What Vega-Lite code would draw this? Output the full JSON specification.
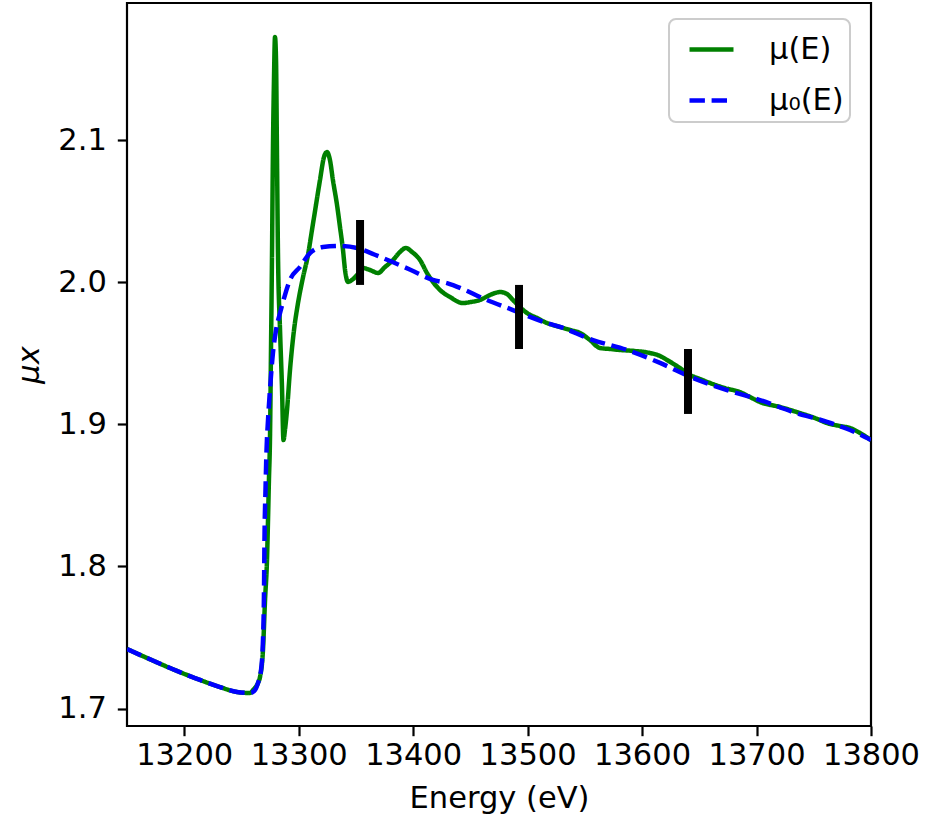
{
  "$schema": "https://vega.github.io/schema/vega-lite/v6.json",
  "width": 744,
  "height": 723,
  "autosize": {"type": "none"},
  "padding": {"left": 127, "top": 3, "right": 54, "bottom": 96},
  "background": "white",
  "config": {
    "font": "DejaVu Sans",
    "view": {"stroke": "black", "strokeWidth": 2.2},
    "axis": {
      "grid": false,
      "domain": false,
      "labelFont": "DejaVu Sans",
      "labelFontSize": 30.5,
      "labelColor": "black",
      "labelOverlap": false,
      "labelFlush": false,
      "tickColor": "black",
      "tickWidth": 2.2,
      "tickSize": 9.7,
      "titleFont": "DejaVu Sans",
      "titleFontSize": 30.5,
      "titleFontWeight": "normal",
      "titleColor": "black"
    },
    "legend": {
      "orient": "none",
      "legendX": 542,
      "legendY": 16,
      "symbolType": "stroke",
      "symbolSize": 1936,
      "symbolStrokeWidth": 4.5,
      "symbolOffset": 12,
      "labelFont": "DejaVu Sans",
      "labelFontSize": 30.5,
      "labelColor": "black",
      "labelOffset": 33,
      "rowPadding": 11,
      "padding": 6,
      "strokeColor": "#cccccc",
      "strokeWidth": 2,
      "cornerRadius": 7,
      "fillColor": "white"
    }
  },
  "datasets": {
    "curves": [
      {"s": "μ(E)", "E": 13150.0, "mu": 1.7419},
      {"s": "μ(E)", "E": 13165.7, "mu": 1.7362},
      {"s": "μ(E)", "E": 13187.6, "mu": 1.7285},
      {"s": "μ(E)", "E": 13213.8, "mu": 1.7201},
      {"s": "μ(E)", "E": 13231.3, "mu": 1.7151},
      {"s": "μ(E)", "E": 13246.1, "mu": 1.7116},
      {"s": "μ(E)", "E": 13257.5, "mu": 1.7109},
      {"s": "μ(E)", "E": 13260.1, "mu": 1.7130},
      {"s": "μ(E)", "E": 13264.4, "mu": 1.7179},
      {"s": "μ(E)", "E": 13266.2, "mu": 1.7222},
      {"s": "μ(E)", "E": 13268.8, "mu": 1.7412},
      {"s": "μ(E)", "E": 13270.6, "mu": 1.7764},
      {"s": "μ(E)", "E": 13272.3, "mu": 1.8045},
      {"s": "μ(E)", "E": 13273.2, "mu": 1.8327},
      {"s": "μ(E)", "E": 13274.0, "mu": 1.8608},
      {"s": "μ(E)", "E": 13274.9, "mu": 1.8889},
      {"s": "μ(E)", "E": 13275.8, "mu": 1.9523},
      {"s": "μ(E)", "E": 13276.7, "mu": 2.0205},
      {"s": "μ(E)", "E": 13277.5, "mu": 2.0930},
      {"s": "μ(E)", "E": 13278.4, "mu": 2.1423},
      {"s": "μ(E)", "E": 13279.3, "mu": 2.1725},
      {"s": "μ(E)", "E": 13280.2, "mu": 2.1563},
      {"s": "μ(E)", "E": 13281.0, "mu": 2.0930},
      {"s": "μ(E)", "E": 13281.9, "mu": 2.0205},
      {"s": "μ(E)", "E": 13283.7, "mu": 1.9663},
      {"s": "μ(E)", "E": 13285.4, "mu": 1.9262},
      {"s": "μ(E)", "E": 13286.7, "mu": 1.8889},
      {"s": "μ(E)", "E": 13288.0, "mu": 1.8960},
      {"s": "μ(E)", "E": 13289.8, "mu": 1.9101},
      {"s": "μ(E)", "E": 13292.4, "mu": 1.9382},
      {"s": "μ(E)", "E": 13295.9, "mu": 1.9663},
      {"s": "μ(E)", "E": 13299.4, "mu": 1.9853},
      {"s": "μ(E)", "E": 13303.8, "mu": 2.0036},
      {"s": "μ(E)", "E": 13308.1, "mu": 2.0191},
      {"s": "μ(E)", "E": 13311.6, "mu": 2.0367},
      {"s": "μ(E)", "E": 13315.1, "mu": 2.0543},
      {"s": "μ(E)", "E": 13318.6, "mu": 2.0719},
      {"s": "μ(E)", "E": 13322.1, "mu": 2.0881},
      {"s": "μ(E)", "E": 13324.7, "mu": 2.0916},
      {"s": "μ(E)", "E": 13327.3, "mu": 2.0860},
      {"s": "μ(E)", "E": 13329.9, "mu": 2.0719},
      {"s": "μ(E)", "E": 13333.5, "mu": 2.0543},
      {"s": "μ(E)", "E": 13336.1, "mu": 2.0388},
      {"s": "μ(E)", "E": 13338.7, "mu": 2.0227},
      {"s": "μ(E)", "E": 13340.5, "mu": 2.0086},
      {"s": "μ(E)", "E": 13343.1, "mu": 2.0002},
      {"s": "μ(E)", "E": 13346.6, "mu": 2.0016},
      {"s": "μ(E)", "E": 13351.0, "mu": 2.0051},
      {"s": "μ(E)", "E": 13356.2, "mu": 2.0100},
      {"s": "μ(E)", "E": 13362.3, "mu": 2.0086},
      {"s": "μ(E)", "E": 13369.3, "mu": 2.0065},
      {"s": "μ(E)", "E": 13375.4, "mu": 2.0107},
      {"s": "μ(E)", "E": 13382.4, "mu": 2.0156},
      {"s": "μ(E)", "E": 13388.5, "mu": 2.0213},
      {"s": "μ(E)", "E": 13393.7, "mu": 2.0241},
      {"s": "μ(E)", "E": 13399.0, "mu": 2.0213},
      {"s": "μ(E)", "E": 13406.0, "mu": 2.0156},
      {"s": "μ(E)", "E": 13412.1, "mu": 2.0065},
      {"s": "μ(E)", "E": 13417.3, "mu": 2.0002},
      {"s": "μ(E)", "E": 13423.5, "mu": 1.9945},
      {"s": "μ(E)", "E": 13432.2, "mu": 1.9896},
      {"s": "μ(E)", "E": 13443.5, "mu": 1.9853},
      {"s": "μ(E)", "E": 13449.7, "mu": 1.9860},
      {"s": "μ(E)", "E": 13458.4, "mu": 1.9875},
      {"s": "μ(E)", "E": 13467.1, "mu": 1.9910},
      {"s": "μ(E)", "E": 13475.9, "mu": 1.9931},
      {"s": "μ(E)", "E": 13482.0, "mu": 1.9917},
      {"s": "μ(E)", "E": 13487.2, "mu": 1.9875},
      {"s": "μ(E)", "E": 13493.3, "mu": 1.9825},
      {"s": "μ(E)", "E": 13499.5, "mu": 1.9783},
      {"s": "μ(E)", "E": 13508.2, "mu": 1.9748},
      {"s": "μ(E)", "E": 13516.9, "mu": 1.9713},
      {"s": "μ(E)", "E": 13528.3, "mu": 1.9685},
      {"s": "μ(E)", "E": 13537.0, "mu": 1.9664},
      {"s": "μ(E)", "E": 13545.8, "mu": 1.9643},
      {"s": "μ(E)", "E": 13554.5, "mu": 1.9593},
      {"s": "μ(E)", "E": 13563.2, "mu": 1.9537},
      {"s": "μ(E)", "E": 13572.0, "mu": 1.9530},
      {"s": "μ(E)", "E": 13580.7, "mu": 1.9523},
      {"s": "μ(E)", "E": 13593.8, "mu": 1.9516},
      {"s": "μ(E)", "E": 13606.9, "mu": 1.9502},
      {"s": "μ(E)", "E": 13615.7, "mu": 1.9481},
      {"s": "μ(E)", "E": 13621.8, "mu": 1.9453},
      {"s": "μ(E)", "E": 13633.1, "mu": 1.9396},
      {"s": "μ(E)", "E": 13641.9, "mu": 1.9347},
      {"s": "μ(E)", "E": 13650.6, "mu": 1.9319},
      {"s": "μ(E)", "E": 13659.3, "mu": 1.9291},
      {"s": "μ(E)", "E": 13672.4, "mu": 1.9255},
      {"s": "μ(E)", "E": 13685.5, "mu": 1.9227},
      {"s": "μ(E)", "E": 13694.3, "mu": 1.9192},
      {"s": "μ(E)", "E": 13703.0, "mu": 1.9157},
      {"s": "μ(E)", "E": 13720.5, "mu": 1.9122},
      {"s": "μ(E)", "E": 13738.0, "mu": 1.9079},
      {"s": "μ(E)", "E": 13751.1, "mu": 1.9044},
      {"s": "μ(E)", "E": 13761.6, "mu": 1.9009},
      {"s": "μ(E)", "E": 13772.9, "mu": 1.8988},
      {"s": "μ(E)", "E": 13781.7, "mu": 1.8974},
      {"s": "μ(E)", "E": 13790.4, "mu": 1.8939},
      {"s": "μ(E)", "E": 13800.0, "mu": 1.8889},
      {"s": "μ₀(E)", "E": 13150.0, "mu": 1.7419},
      {"s": "μ₀(E)", "E": 13165.7, "mu": 1.7362},
      {"s": "μ₀(E)", "E": 13187.6, "mu": 1.7285},
      {"s": "μ₀(E)", "E": 13213.8, "mu": 1.7201},
      {"s": "μ₀(E)", "E": 13231.3, "mu": 1.7151},
      {"s": "μ₀(E)", "E": 13246.1, "mu": 1.7116},
      {"s": "μ₀(E)", "E": 13257.5, "mu": 1.7109},
      {"s": "μ₀(E)", "E": 13261.8, "mu": 1.7130},
      {"s": "μ₀(E)", "E": 13264.4, "mu": 1.7179},
      {"s": "μ₀(E)", "E": 13267.1, "mu": 1.7271},
      {"s": "μ₀(E)", "E": 13268.8, "mu": 1.7482},
      {"s": "μ₀(E)", "E": 13269.7, "mu": 1.7834},
      {"s": "μ₀(E)", "E": 13270.1, "mu": 1.8186},
      {"s": "μ₀(E)", "E": 13271.0, "mu": 1.8538},
      {"s": "μ₀(E)", "E": 13271.9, "mu": 1.8819},
      {"s": "μ₀(E)", "E": 13273.2, "mu": 1.9030},
      {"s": "μ₀(E)", "E": 13274.9, "mu": 1.9241},
      {"s": "μ₀(E)", "E": 13277.5, "mu": 1.9502},
      {"s": "μ₀(E)", "E": 13280.2, "mu": 1.9663},
      {"s": "μ₀(E)", "E": 13283.7, "mu": 1.9783},
      {"s": "μ₀(E)", "E": 13288.0, "mu": 1.9910},
      {"s": "μ₀(E)", "E": 13292.4, "mu": 2.0016},
      {"s": "μ₀(E)", "E": 13301.1, "mu": 2.0107},
      {"s": "μ₀(E)", "E": 13309.9, "mu": 2.0205},
      {"s": "μ₀(E)", "E": 13321.2, "mu": 2.0248},
      {"s": "μ₀(E)", "E": 13336.1, "mu": 2.0255},
      {"s": "μ₀(E)", "E": 13351.0, "mu": 2.0241},
      {"s": "μ₀(E)", "E": 13366.0, "mu": 2.0195},
      {"s": "μ₀(E)", "E": 13382.0, "mu": 2.0142},
      {"s": "μ₀(E)", "E": 13398.0, "mu": 2.0086},
      {"s": "μ₀(E)", "E": 13417.3, "mu": 2.0016},
      {"s": "μ₀(E)", "E": 13429.6, "mu": 1.9994},
      {"s": "μ₀(E)", "E": 13445.3, "mu": 1.9945},
      {"s": "μ₀(E)", "E": 13458.4, "mu": 1.9896},
      {"s": "μ₀(E)", "E": 13487.2, "mu": 1.9804},
      {"s": "μ₀(E)", "E": 13516.9, "mu": 1.9713},
      {"s": "μ₀(E)", "E": 13528.3, "mu": 1.9685},
      {"s": "μ₀(E)", "E": 13557.1, "mu": 1.9593},
      {"s": "μ₀(E)", "E": 13586.8, "mu": 1.9523},
      {"s": "μ₀(E)", "E": 13615.7, "mu": 1.9432},
      {"s": "μ₀(E)", "E": 13644.5, "mu": 1.9326},
      {"s": "μ₀(E)", "E": 13674.2, "mu": 1.9241},
      {"s": "μ₀(E)", "E": 13703.0, "mu": 1.9171},
      {"s": "μ₀(E)", "E": 13731.8, "mu": 1.9087},
      {"s": "μ₀(E)", "E": 13761.6, "mu": 1.9017},
      {"s": "μ₀(E)", "E": 13781.7, "mu": 1.8960},
      {"s": "μ₀(E)", "E": 13800.0, "mu": 1.8889}
    ],
    "bars": [
      {"E": 13353.6, "lo": 1.9981, "hi": 2.0438},
      {"E": 13492.5, "lo": 1.9530, "hi": 1.9981},
      {"E": 13640.1, "lo": 1.9073, "hi": 1.9530}
    ]
  },
  "layer": [
    {
      "data": {"name": "curves"},
      "mark": {"type": "line", "strokeWidth": 4.5, "interpolate": "monotone", "clip": true},
      "encoding": {
        "x": {
          "field": "E", "type": "quantitative",
          "scale": {"domain": [13150, 13800], "nice": false, "zero": false},
          "axis": {"values": [13200, 13300, 13400, 13500, 13600, 13700, 13800], "format": "d", "title": "Energy (eV)", "labelPadding": 5, "titlePadding": 12}
        },
        "y": {
          "field": "mu", "type": "quantitative",
          "scale": {"domain": [1.6877, 2.1965], "nice": false, "zero": false},
          "axis": {"values": [1.7, 1.8, 1.9, 2.0, 2.1], "format": ".1f", "title": "μx", "titleFontStyle": "italic", "labelPadding": 11, "titlePadding": 13}
        },
        "color": {
          "field": "s", "type": "nominal",
          "scale": {"domain": ["μ(E)", "μ₀(E)"], "range": ["#008000", "#0000ff"]},
          "legend": {"title": null}
        },
        "strokeDash": {
          "field": "s", "type": "nominal",
          "scale": {"domain": ["μ(E)", "μ₀(E)"], "range": [[1, 0], [15.4, 6.7]]},
          "legend": {"title": null}
        }
      }
    },
    {
      "data": {"name": "bars"},
      "mark": {"type": "rule", "strokeWidth": 8, "color": "black"},
      "encoding": {
        "x": {"field": "E", "type": "quantitative"},
        "y": {"field": "lo", "type": "quantitative"},
        "y2": {"field": "hi"}
      }
    }
  ]
}
